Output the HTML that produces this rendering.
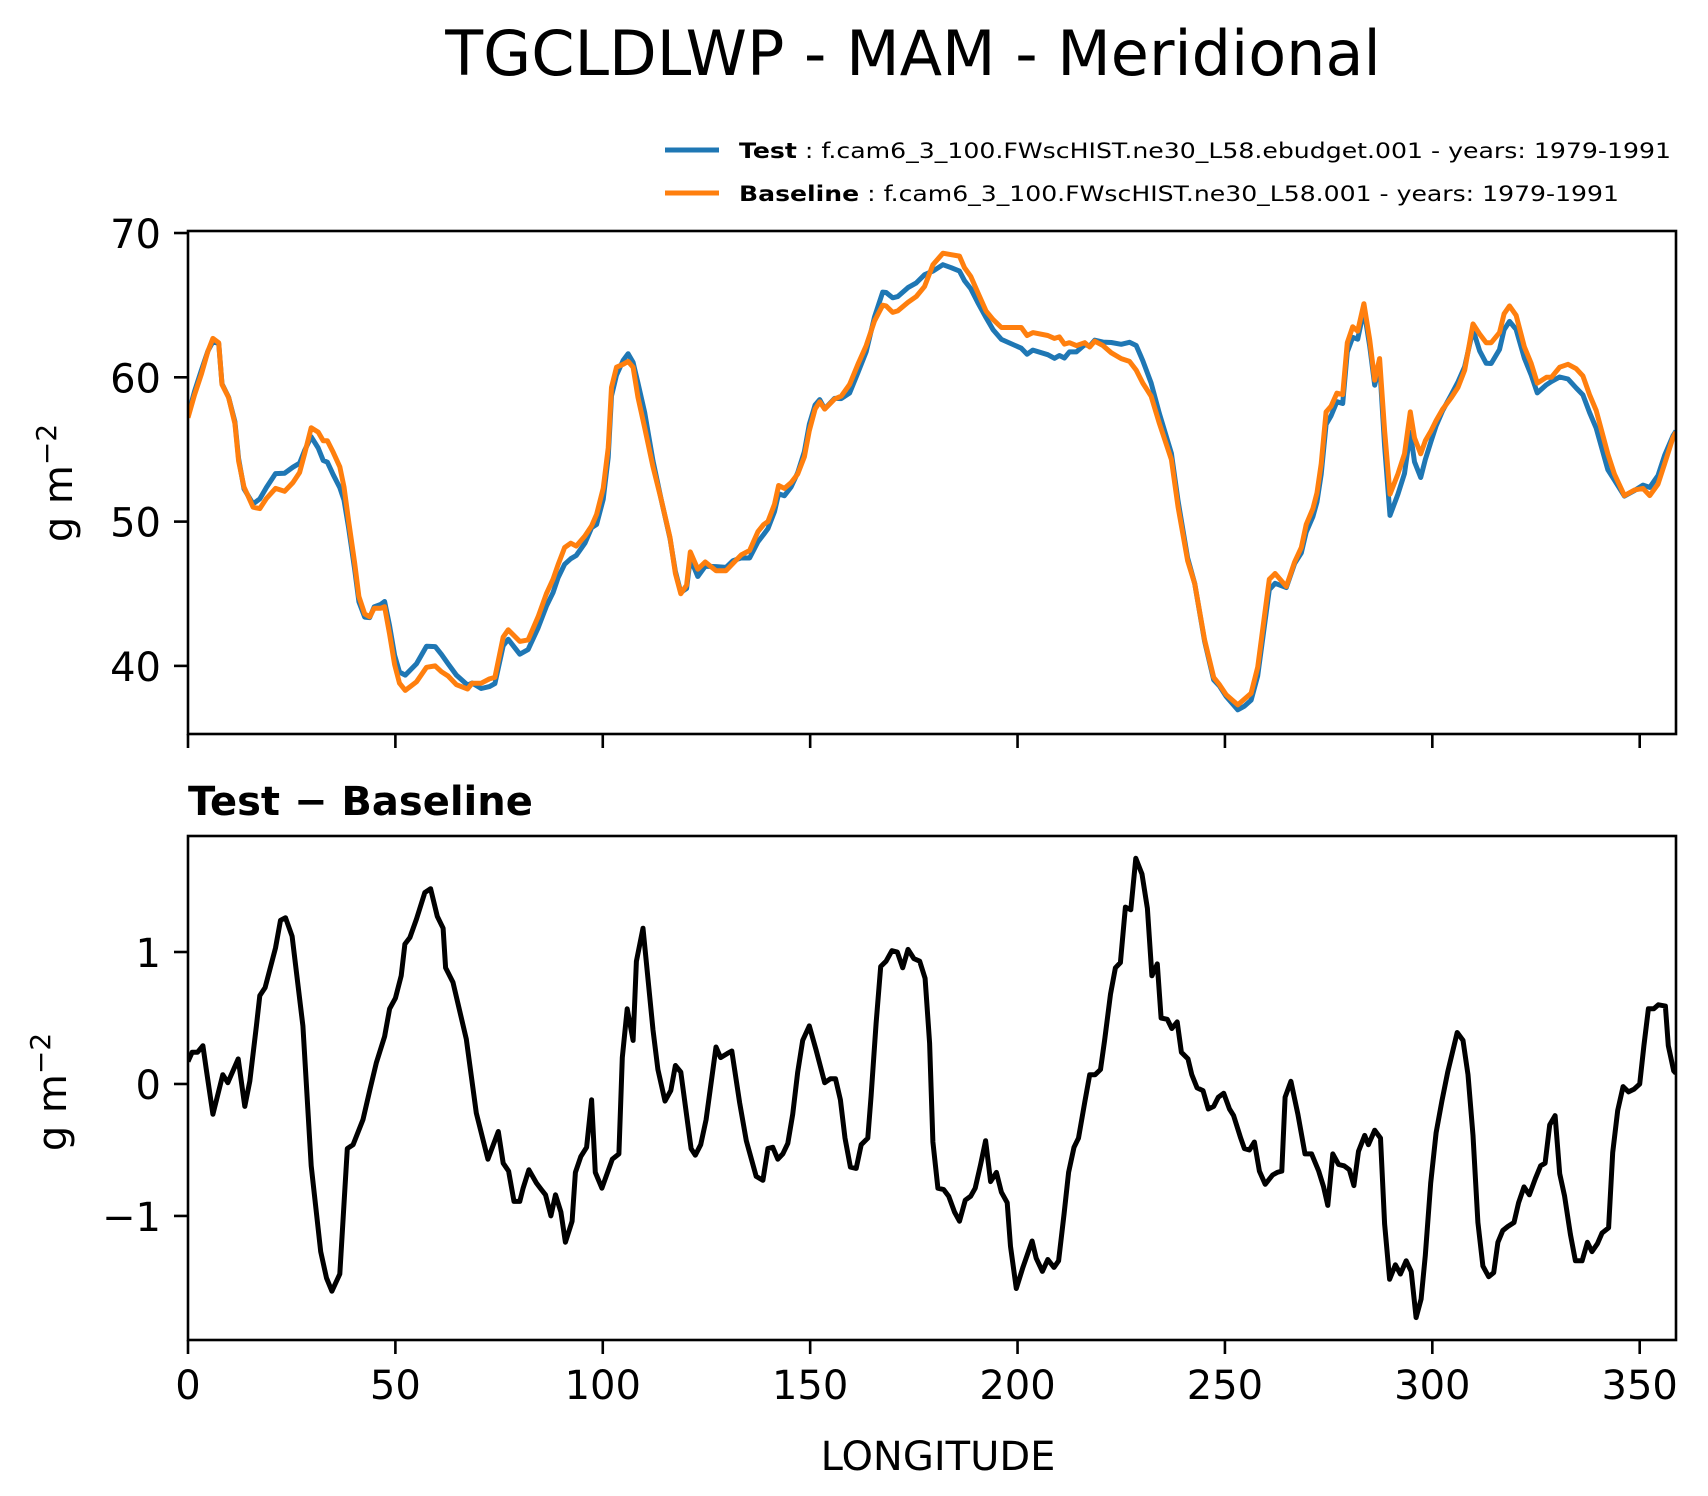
<!DOCTYPE html>
<html><head><meta charset="utf-8">
<style>
html,body{margin:0;padding:0;background:#fff;}
svg{display:block;font-family:"DejaVu Sans","Liberation Sans",sans-serif;}
</style></head>
<body>
<svg id="chart" width="1708" height="1496" viewBox="0 0 1708 1496" xmlns="http://www.w3.org/2000/svg">
<rect width="1708" height="1496" fill="#fff"/>
<text x="913" y="75" font-size="62" text-anchor="middle" fill="#000">TGCLDLWP - MAM - Meridional</text>
<g>
  <line x1="665" y1="150" x2="719" y2="150" stroke="#1f77b4" stroke-width="5"/>
  <text x="739" y="158" font-size="21" textLength="932" lengthAdjust="spacingAndGlyphs"><tspan font-weight="bold">Test</tspan> : f.cam6_3_100.FWscHIST.ne30_L58.ebudget.001 - years: 1979-1991</text>
  <line x1="665" y1="193" x2="719" y2="193" stroke="#ff7f0e" stroke-width="5"/>
  <text x="739" y="201" font-size="21" textLength="880" lengthAdjust="spacingAndGlyphs"><tspan font-weight="bold">Baseline</tspan> : f.cam6_3_100.FWscHIST.ne30_L58.001 - years: 1979-1991</text>
</g>
<text x="188" y="815" font-size="40" font-weight="bold" fill="#000">Test − Baseline</text>
<text transform="translate(72,483) rotate(-90)" font-size="40" text-anchor="middle">g m<tspan dy="-16" font-size="28">−2</tspan></text>
<text transform="translate(66,1092) rotate(-90)" font-size="40" text-anchor="middle">g m<tspan dy="-16" font-size="28">−2</tspan></text>
<text x="938" y="1470" font-size="40" text-anchor="middle">LONGITUDE</text>
<g id="plots"></g>
</svg>
<script>
const baseLon=[0,1.6,3.2,4.8,6,7.4,8.2,9.8,11.3,12.2,13.5,15.7,17.3,18.9,21.1,23.3,25.3,26.9,28.1,29.7,31.4,32.6,33.6,35,36.6,37.6,38.7,40.2,41.2,42.6,43.8,44.9,46.5,47.4,48.6,49.8,51,52.4,55.1,57.5,59.6,61.1,62.7,64.7,67.4,68.5,70.7,72.7,74,76,77.2,80,82,84.4,86.4,88,89.2,90.8,92.3,93.6,95.7,97.3,98.5,100.1,101.3,102.1,103.3,104.9,106.1,107.3,108.5,110.1,112.1,114.1,116.2,117.5,118.8,120.2,121.1,122.9,124.7,127.3,129.7,131.4,133.4,135.4,137.4,138.8,139.8,141.4,142.4,143.8,145.4,147,148.6,149.8,151.2,152.3,153.5,155.9,157.5,159.5,161.5,163.5,165.5,167.5,168.3,169.9,171.1,173.6,175.6,177.6,179.6,182,184,186,187.2,188.7,190.4,192.4,194.1,196.1,200.9,202.3,203.7,207.3,208.9,210.1,211.3,212.5,214.2,216.2,217.4,218.6,220.6,222.6,225,227,228.6,230.2,232.2,234.2,237.1,238.7,241,242.7,245.1,247.3,248.7,250.3,253.1,254.7,256.3,257.9,260.7,262.1,264.8,266.8,268.4,269.6,271.2,272.2,273.2,274.4,275.6,277,278.4,279.5,280.8,282,283.5,284.9,286.1,287.3,288.5,289.8,291.7,293.3,294.7,295.7,297.2,298.3,299.7,300.9,302.5,304.6,306.2,307.8,309.8,311.4,313,314.2,316.2,317.3,318.6,320.2,322.2,323.8,325.3,327.5,328.7,330.7,332.7,334.7,336.3,337.9,339.5,342.3,343.9,346.3,348.8,350.8,352.4,354.4,356,358,358.75];
const baseVal=[57.2,58.8,60.2,61.8,62.7,62.4,59.5,58.6,56.8,54.2,52.4,51,50.9,51.6,52.3,52.1,52.7,53.4,54.7,56.5,56.2,55.6,55.6,54.8,53.8,52.4,50.1,47.1,44.8,43.6,43.4,44,44,44.1,42.2,40.1,38.8,38.3,38.9,39.9,40,39.6,39.3,38.7,38.4,38.8,38.8,39.1,39.2,42,42.5,41.7,41.8,43.4,45,46,47,48.2,48.5,48.3,49,49.7,50.5,52.3,55.1,59.3,60.7,60.9,61.1,60.7,58.6,56.5,53.8,51.5,48.9,46.4,45,45.6,47.9,46.7,47.2,46.6,46.6,47.1,47.7,48,49.3,49.8,50,51.2,52.5,52.3,52.7,53.3,54.5,56.3,57.8,58.3,57.8,58.5,58.7,59.5,60.9,62.2,63.9,65,64.95,64.5,64.6,65.2,65.6,66.3,67.8,68.6,68.5,68.4,67.6,67,65.9,64.6,64,63.45,63.45,62.9,63.1,62.9,62.7,62.8,62.3,62.4,62.2,62.4,62.1,62.5,62.2,61.7,61.3,61.1,60.5,59.6,58.7,56.8,54.3,51,47.3,45.7,41.8,39.2,38.7,38,37.3,37.7,38.1,39.9,46,46.4,45.5,47.2,48.2,49.8,50.9,52,54,57.6,58,58.9,58.8,62.4,63.5,63.2,65.1,62.6,59.8,61.3,56.3,51.9,53.3,54.7,57.6,55.8,54.7,55.6,56.3,57,57.8,58.6,59.3,60.5,63.7,63,62.4,62.4,63.1,64.4,64.95,64.3,62.1,61,59.6,60,60,60.7,60.9,60.6,60.1,58.8,57.7,54.7,53.3,51.8,52.2,52.3,51.8,52.6,54,55.8,56.2];
const diffLon=[0,1,2.3,3.6,4.4,6,8.4,9.6,12.1,13.7,14.9,16.5,17.3,18.6,21.1,22.3,23.5,25.1,27.7,29.7,32,33.4,34.7,36.6,38.4,39.8,42.2,43.8,45.4,47.4,48.6,50,51.4,52.3,53.5,55.1,57.1,58.5,60.1,61.5,62.1,63.9,67.1,69.5,72.3,74.8,76,77.3,78.6,80,80.8,82.2,84,85.2,86.2,87.5,88.6,89.9,91,92.6,93.4,94.7,96.1,97.3,98.2,99.8,102.3,103.9,104.7,105.9,107.3,108.1,109.7,112.1,113.3,115,116.4,117.5,118.8,121.3,122.3,123.6,124.9,127.3,128.4,130,131.1,133,134.6,137,138.6,139.8,141,142.2,143.4,144.6,145.8,147,148.2,149.8,151.4,153.5,154.9,156.1,157.3,158.4,159.7,161.1,162.3,163.9,164.7,165.9,167,168.3,169.7,171,172.3,173.6,175,176.4,177.7,178.8,179.6,180.8,182.2,183.4,184.8,186,187.4,188.7,189.8,191.1,192.3,193.5,194.9,196.1,197.5,198.3,199.7,201.3,203.5,204.5,206,207.3,208.8,209.9,211.2,212.3,213.6,214.7,216.2,217.4,218.7,220,221,222.4,223.6,224.8,226,227.3,228.5,230,231.3,232.4,233.7,234.6,236.1,237.2,238.5,239.5,241.1,242,243.3,244.7,246,247.3,248.4,249.7,251.1,252.1,253.8,254.7,255.9,257.1,258.3,259.7,261.5,262.6,263.7,264.5,265.9,267.6,269.3,270.9,272.6,273.8,274.8,276,277.4,278.7,280,281.1,282.2,283.7,284.6,286.1,287.5,288.5,289.7,291.1,292.3,293.7,294.9,296.1,297.3,298.3,299.6,300.9,302.3,303.7,306,307.4,308.6,309.8,311,312.2,313.6,314.8,315.8,317,318.2,319.7,320.8,322.1,323.4,324.8,326.1,327.2,328.3,329.6,330.7,331.9,333.3,334.5,336.1,337.4,338.5,339.8,340.9,342.5,343.5,344.7,346,347.3,348.6,350,351,352.1,353.4,354.5,356.2,356.9,358.2,358.75];
const diffVal=[0.17,0.24,0.24,0.29,0.11,-0.23,0.07,0.01,0.19,-0.17,0.02,0.44,0.67,0.73,1.03,1.24,1.26,1.12,0.44,-0.62,-1.27,-1.47,-1.57,-1.44,-0.49,-0.46,-0.27,-0.05,0.16,0.36,0.57,0.65,0.82,1.06,1.11,1.25,1.45,1.48,1.27,1.18,0.88,0.77,0.34,-0.22,-0.57,-0.36,-0.6,-0.66,-0.89,-0.89,-0.79,-0.65,-0.75,-0.8,-0.84,-1.0,-0.84,-0.97,-1.2,-1.04,-0.67,-0.55,-0.48,-0.12,-0.67,-0.79,-0.57,-0.53,0.2,0.57,0.33,0.93,1.18,0.41,0.11,-0.13,-0.05,0.14,0.09,-0.49,-0.54,-0.46,-0.27,0.28,0.2,0.23,0.25,-0.14,-0.43,-0.7,-0.73,-0.49,-0.48,-0.57,-0.53,-0.45,-0.23,0.09,0.33,0.44,0.26,0.01,0.04,0.04,-0.12,-0.41,-0.63,-0.64,-0.46,-0.41,-0.09,0.46,0.89,0.93,1.01,1.0,0.88,1.02,0.95,0.93,0.8,0.31,-0.44,-0.79,-0.8,-0.85,-0.97,-1.04,-0.88,-0.85,-0.79,-0.61,-0.43,-0.74,-0.67,-0.82,-0.9,-1.23,-1.55,-1.39,-1.19,-1.32,-1.42,-1.33,-1.39,-1.34,-0.99,-0.67,-0.48,-0.41,-0.14,0.07,0.07,0.11,0.33,0.68,0.88,0.92,1.34,1.32,1.71,1.59,1.33,0.82,0.91,0.5,0.49,0.42,0.47,0.24,0.19,0.07,-0.03,-0.05,-0.19,-0.17,-0.1,-0.07,-0.19,-0.24,-0.41,-0.49,-0.5,-0.44,-0.66,-0.76,-0.69,-0.67,-0.66,-0.1,0.02,-0.23,-0.53,-0.53,-0.66,-0.78,-0.92,-0.53,-0.61,-0.62,-0.65,-0.77,-0.51,-0.39,-0.46,-0.35,-0.41,-1.06,-1.48,-1.37,-1.44,-1.34,-1.42,-1.77,-1.63,-1.3,-0.75,-0.37,-0.13,0.09,0.39,0.33,0.07,-0.39,-1.05,-1.38,-1.46,-1.43,-1.2,-1.11,-1.08,-1.05,-0.9,-0.78,-0.84,-0.72,-0.62,-0.6,-0.31,-0.24,-0.68,-0.85,-1.14,-1.34,-1.34,-1.2,-1.27,-1.21,-1.13,-1.09,-0.52,-0.2,-0.02,-0.06,-0.04,0.0,0.29,0.57,0.57,0.6,0.59,0.29,0.1,0.08];
const xTicks=[0,50,100,150,200,250,300,350];
const topYTicks=[40,50,60,70];
const botYTicks=[-1,0,1];

const NS='http://www.w3.org/2000/svg';
const plots=document.getElementById('plots');
const L=188,R=1676;
const X0=0,X1=358.75;
const pTop={t:231,b:734,lo:35.28,hi:70.14};
const pBot={t:836,b:1340,lo:-1.94,hi:1.879};
function sx(v){return L+(v-X0)/(X1-X0)*(R-L);}
function sy(p,v){return p.b-(v-p.lo)/(p.hi-p.lo)*(p.b-p.t);}
function mk(tag,attrs,parent){const e=document.createElementNS(NS,tag);for(const k in attrs)e.setAttribute(k,attrs[k]);(parent||plots).appendChild(e);return e;}
function diffAt(lon){
  for(let i=0;i<diffLon.length-1;i++){
    if(lon>=diffLon[i]&&lon<=diffLon[i+1]){const f=(lon-diffLon[i])/((diffLon[i+1]-diffLon[i])||1);return diffVal[i]+f*(diffVal[i+1]-diffVal[i]);}
  }
  return diffVal[diffVal.length-1];
}
function pathFrom(p,lons,vals){return lons.map((x,i)=>(i?'L':'M')+sx(x).toFixed(1)+','+sy(p,vals[i]).toFixed(1)).join(' ');}

const testVal=baseLon.map((x,i)=>baseVal[i]+diffAt(x));
let e,r;
e=mk('clipPath',{id:'cpTop'});


r=mk('rect',{x:L,y:pTop.t,width:R-L,height:pTop.b-pTop.t},e);


e=mk('clipPath',{id:'cpBot'});


r=mk('rect',{x:L,y:pBot.t,width:R-L,height:pBot.b-pBot.t},e);



e=mk('path',{d:pathFrom(pTop,baseLon,testVal),fill:'none',stroke:'#1f77b4','stroke-width':5,'stroke-linejoin':'round','clip-path':'url(#cpTop)'});


e=mk('path',{d:pathFrom(pTop,baseLon,baseVal),fill:'none',stroke:'#ff7f0e','stroke-width':5,'stroke-linejoin':'round','clip-path':'url(#cpTop)'});


e=mk('path',{d:pathFrom(pBot,diffLon,diffVal),fill:'none',stroke:'#000','stroke-width':5,'stroke-linejoin':'round','clip-path':'url(#cpBot)'});



[[pTop,'top'],[pBot,'bottom']].forEach(([p,nm])=>{
  const f=mk('rect',{x:L,y:p.t,width:R-L,height:p.b-p.t,fill:'none',stroke:'#000','stroke-width':2.6});
  
  
  xTicks.forEach(t=>{
    const tk=mk('line',{x1:sx(t),x2:sx(t),y1:p.b,y2:p.b+14,stroke:'#000','stroke-width':2.6});
    
    
    if(nm==='bottom'){
      const tl=mk('text',{x:sx(t),y:1399,'font-size':40,'text-anchor':'middle'});
      tl.textContent=t;
      
      
    }
  });
  const yt=nm==='top'?topYTicks:botYTicks;
  yt.forEach(t=>{
    const y=sy(p,t);
    const tk=mk('line',{x1:L-14,x2:L,y1:y,y2:y,stroke:'#000','stroke-width':2.6});
    
    
    const tl=mk('text',{x:L-27,y:y+15,'font-size':40,'text-anchor':'end'});
    tl.textContent=t<0?'−'+Math.abs(t):String(t);
    
    
  });
});
</script>
</body></html>
